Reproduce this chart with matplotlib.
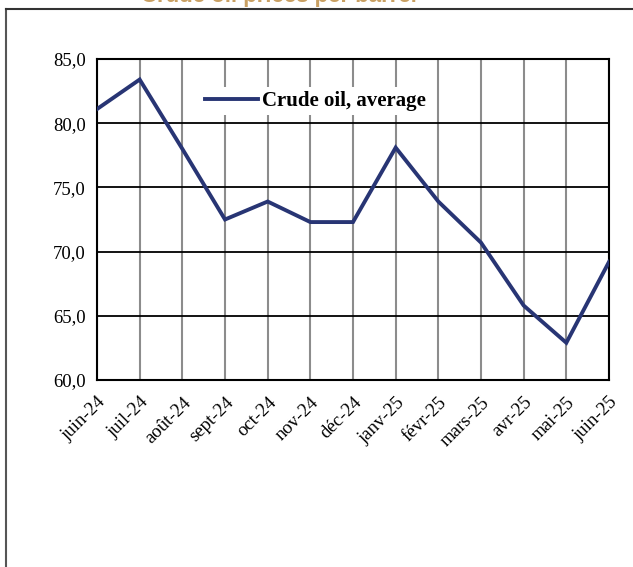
import matplotlib
matplotlib.use("Agg")
import matplotlib.pyplot as plt
from matplotlib.lines import Line2D

# monthly average crude oil price
months = ["juin-24", "juil-24", "août-24", "sept-24", "oct-24", "nov-24", "déc-24",
          "janv-25", "févr-25", "mars-25", "avr-25", "mai-25", "juin-25"]
crude_avg = [81.1, 83.4, 78.0, 72.5, 73.9, 72.3, 72.3, 78.1, 73.9, 70.7, 65.8, 62.9, 69.2]
y_ticks = [60, 65, 70, 75, 80, 85]

plt.rcParams['font.family'] = ['Liberation Serif', 'DejaVu Serif']

fig = plt.figure(figsize=(6.33, 5.67), dpi=100)
fig.patch.set_facecolor("white")

# outer frame (left and top edges only visible)
fig.add_artist(Line2D([6 / 633, 6 / 633], [0, 1 - 9 / 567], transform=fig.transFigure,
                      color="#555555", lw=1.5))
fig.add_artist(Line2D([6 / 633, 1], [1 - 9 / 567, 1 - 9 / 567], transform=fig.transFigure,
                      color="#333333", lw=1.5))
# title, mostly above the visible area
fig.text(0.44, 1 - 2 / 567, "Crude oil prices per barrel", color="#c9a063",
         fontsize=16, fontweight="bold", ha="center", va="baseline",
         family=["Liberation Sans", "DejaVu Sans"])

ax = fig.add_axes([97 / 633, 187 / 567, 512 / 633, 321 / 567])
x = list(range(len(months)))
ax.plot(x, crude_avg, color="#283574", lw=2.8, label="Crude oil, average", zorder=3,
        solid_joinstyle="miter")

ax.set_xlim(0, len(months) - 1)
ax.set_ylim(60, 85)
ax.set_yticks(y_ticks)
ax.set_yticklabels([f"{v:.1f}".replace(".", ",") for v in y_ticks], fontsize=13.5)
ax.set_xticks(x)
ax.set_xticklabels(months, fontsize=13.5, rotation=45, ha="right", rotation_mode="anchor")
ax.tick_params(length=0, pad=8)
ax.tick_params(axis="x", pad=10)

for v in y_ticks:
    ax.axhline(v, color="black", lw=1.3, zorder=1)
for i in x:
    ax.axvline(i, color="#8c8c8c", lw=1.5, zorder=0)
for s in ax.spines.values():
    s.set_color("black")
    s.set_linewidth(1.5)

leg = ax.legend(loc="center", bbox_to_anchor=(0.426, 0.869), frameon=True,
                prop={"weight": "bold", "size": 15}, handlelength=2.55,
                handletextpad=0.2, borderpad=0.2, fancybox=False)
leg.get_frame().set_edgecolor("none")
leg.get_frame().set_facecolor("white")
leg.get_frame().set_alpha(1)

fig.savefig("out.png", dpi=100)
